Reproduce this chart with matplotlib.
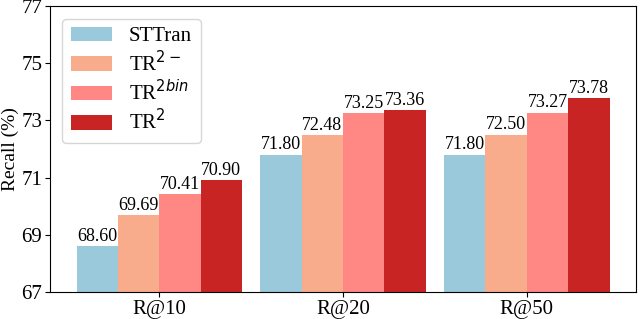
import numpy as np
import matplotlib.pyplot as plt

plt.rcParams['font.family'] = ['Liberation Serif', 'DejaVu Serif']

categories = ["R@10", "R@20", "R@50"]
methods = ["STTran", "TR$^{2-}$", "TR$^{2bin}$", "TR$^{2}$"]
sttran = [68.60, 71.80, 71.80]
tr2_minus = [69.69, 72.48, 72.50]
tr2_bin = [70.41, 73.25, 73.27]
tr2 = [70.90, 73.36, 73.78]
colors = ["#9AC9DB", "#F8AC8C", "#FF8884", "#C82423"]

series = [sttran, tr2_minus, tr2_bin, tr2]
x = np.arange(len(categories))
w = 0.225

fig, ax = plt.subplots(figsize=(6.4, 3.19), dpi=100)
for i, (vals, c, lab) in enumerate(zip(series, colors, methods)):
    pos = x + (i - 1.5) * w
    bars = ax.bar(pos, vals, width=w, color=c, label=lab)
    for b, v in zip(bars, vals):
        ax.annotate(f"{v:.2f}", (b.get_x() + b.get_width() / 2, v),
                    xytext=(0, 1), textcoords="offset points",
                    ha="center", va="bottom", fontsize=13)

ax.set_ylim(67, 77)
ax.set_yticks([67, 69, 71, 73, 75, 77])
ax.set_xticks(x)
ax.set_xticklabels(categories)
ax.tick_params(labelsize=15, pad=2)
ax.set_ylabel("Recall (%)", fontsize=14)
ax.yaxis.set_label_coords(-0.052, 0.5)
ax.legend(loc="upper left", fontsize=15, borderaxespad=0.6,
          labelspacing=0.2, handletextpad=0.8)

plt.subplots_adjust(left=0.078, right=0.994, top=0.981, bottom=0.085)
plt.savefig("out.png")
